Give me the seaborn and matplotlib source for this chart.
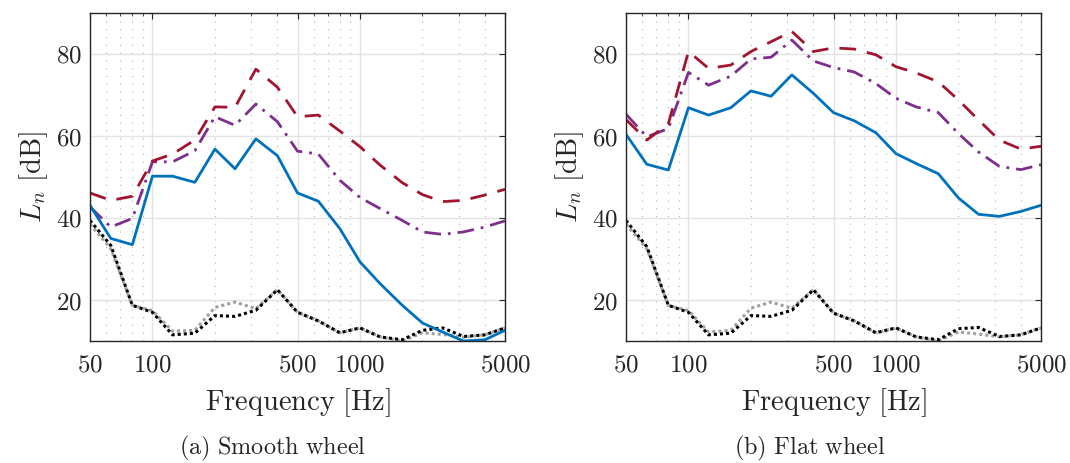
import pandas as pd
import seaborn as sns
import matplotlib.pyplot as plt
from matplotlib.ticker import FixedLocator, FixedFormatter, NullFormatter

# third-octave band centre frequencies
freq = [50, 63, 80, 100, 125, 160, 200, 250, 315, 400, 500,
        630, 800, 1000, 1250, 1600, 2000, 2500, 3150, 4000, 5000]

# (a) smooth wheel
smooth_blue = [43.1, 35.0, 33.5, 50.2, 50.2, 48.7, 56.8, 52.0, 59.3, 55.2, 46.1,
               44.1, 37.4, 29.3, 24.0, 18.7, 14.4, 12.2, 10.0, 10.3, 12.6]
smooth_red = [46.1, 44.3, 45.3, 53.9, 55.6, 59.0, 67.1, 67.0, 76.3, 71.9, 64.7,
              65.1, 61.2, 57.4, 52.9, 48.6, 45.7, 44.0, 44.3, 45.6, 47.0]
smooth_purple = [42.7, 37.8, 39.9, 53.7, 53.7, 56.4, 64.7, 62.6, 67.8, 63.5, 56.3,
                 55.6, 49.2, 45.0, 42.3, 39.4, 36.6, 36.0, 36.6, 37.8, 39.3]
smooth_black = [39.4, 33.3, 18.7, 17.0, 11.5, 11.9, 16.2, 16.0, 17.5, 22.5, 17.0,
                14.9, 12.0, 13.2, 11.0, 10.3, 12.6, 13.2, 11.1, 11.5, 13.2]
smooth_grey = [38.5, 32.5, 18.7, 17.4, 12.4, 12.6, 18.2, 19.5, 17.9, 22.5, 17.0,
               14.9, 12.0, 13.2, 11.0, 10.0, 12.0, 11.6, 10.9, 11.5, 13.2]

# (b) flat wheel
flat_blue = [60.4, 53.1, 51.7, 66.9, 65.1, 66.9, 71.0, 69.7, 74.9, 70.4, 65.7,
             63.7, 60.8, 55.7, 53.3, 50.8, 44.9, 40.9, 40.4, 41.6, 43.1]
flat_red = [64.0, 59.0, 63.0, 80.6, 76.5, 77.3, 80.6, 83.0, 85.5, 80.6, 81.5,
            81.2, 79.8, 76.9, 75.4, 73.2, 68.8, 63.9, 59.0, 56.8, 57.5]
flat_purple = [65.3, 59.8, 61.8, 75.5, 72.4, 74.6, 78.8, 79.2, 83.4, 78.3, 76.7,
               75.6, 72.8, 69.2, 67.1, 65.7, 60.6, 56.1, 52.6, 51.8, 53.0]
flat_black = [39.4, 33.0, 18.7, 17.0, 11.5, 11.9, 16.2, 16.0, 17.5, 22.5, 16.8,
              14.9, 12.0, 13.2, 11.0, 10.3, 13.0, 13.3, 11.1, 11.5, 13.2]
flat_grey = [38.5, 32.5, 18.7, 17.4, 12.2, 12.6, 18.0, 19.5, 18.0, 22.5, 16.8,
             14.9, 12.0, 13.2, 11.0, 10.0, 12.2, 11.7, 11.0, 11.5, 13.2]

x_ticks = [50, 100, 500, 1000, 5000]
x_minor = [60, 70, 80, 90, 200, 300, 400, 600, 700, 800, 900, 2000, 3000, 4000]
y_ticks = [20, 40, 60, 80]

sns.set_style("white")
plt.rcParams['mathtext.fontset'] = 'cm'
plt.rcParams['font.family'] = ['DejaVu Serif']

fig = plt.figure(figsize=(10.7, 4.63), dpi=100)
ax1 = fig.add_axes([90 / 1070, 1 - 341 / 463, 415 / 1070, 328 / 463])
ax2 = fig.add_axes([626 / 1070, 1 - 341 / 463, 415 / 1070, 328 / 463])

panels = [
    (ax1, smooth_grey, smooth_black, smooth_purple, smooth_red, smooth_blue, '(a) Smooth wheel', 273),
    (ax2, flat_grey, flat_black, flat_purple, flat_red, flat_blue, '(b) Flat wheel', 810),
]

for ax, grey, black, purple, red, blue, caption, cx in panels:
    sns.lineplot(x=freq, y=grey, ax=ax, color='#a0a0a0', lw=2.2, linestyle=(0, (1, 1)))
    sns.lineplot(x=freq, y=black, ax=ax, color='black', lw=2.2, linestyle=(0, (1, 1)))
    sns.lineplot(x=freq, y=purple, ax=ax, color='#7E2F8E', lw=2.0, linestyle=(0, (6, 2.5, 1, 2.5)))
    sns.lineplot(x=freq, y=red, ax=ax, color='#A2142F', lw=2.0, linestyle=(0, (6, 4)))
    sns.lineplot(x=freq, y=blue, ax=ax, color='#0072BD', lw=2.0)

    ax.set_xscale('log')
    ax.set_xlim(50, 5000)
    ax.set_ylim(10, 90)
    ax.xaxis.set_major_locator(FixedLocator(x_ticks))
    ax.xaxis.set_major_formatter(FixedFormatter([r'$\mathrm{%d}$' % t for t in x_ticks]))
    ax.xaxis.set_minor_locator(FixedLocator(x_minor))
    ax.xaxis.set_minor_formatter(NullFormatter())
    ax.set_yticks(y_ticks)
    ax.set_yticklabels([r'$\mathrm{%d}$' % t for t in y_ticks])

    ax.grid(True, which='major', color='#e3e3e3', lw=1.0)
    ax.grid(True, which='minor', axis='x', color='#b5b5b5', lw=0.8, linestyle=(0, (1, 6)))
    ax.set_axisbelow(True)
    ax.tick_params(which='both', direction='in', top=True, right=True,
                   colors='#262626', labelsize=18)
    ax.tick_params(axis='x', pad=9)
    ax.tick_params(axis='y', pad=6)
    ax.tick_params(which='major', length=4, width=0.8)
    ax.tick_params(which='minor', length=2.5, width=0.6)
    for s in ax.spines.values():
        s.set_color('#262626')
        s.set_linewidth(1.0)

    ax.set_xlabel(r'$\mathrm{Frequency\ [Hz]}$', fontsize=20.5, color='#262626', labelpad=7)
    ax.set_ylabel(r'$L_n\ \mathrm{[dB]}$', fontsize=20.5, color='#262626', labelpad=4)
    fig.text(cx / 1070, 1 - 448 / 463, r'$\mathrm{%s}$' % caption.replace(' ', r'\ '),
             fontsize=17.5, ha='center', va='center', color='#262626')

fig.savefig('out.png', dpi=100)
